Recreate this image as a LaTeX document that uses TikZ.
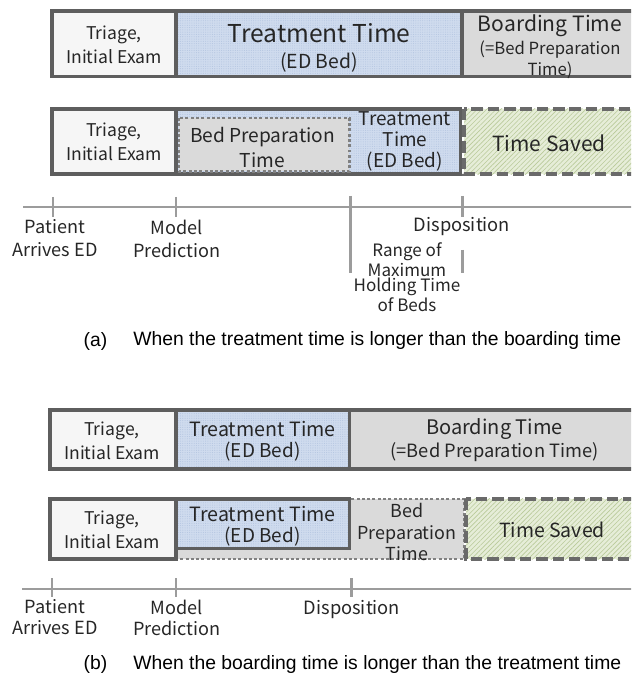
\documentclass[tikz,border=0pt]{standalone}
\usepackage{fontspec}
\newfontfamily\boxfont{Noto Sans CJK KR}
\newfontfamily\capfont{Liberation Sans}
\usetikzlibrary{patterns.meta}
\definecolor{bordergray}{HTML}{5E5E5E}
\definecolor{dotgray}{HTML}{808080}
\definecolor{dashgray}{HTML}{6A6A6A}
\definecolor{axisgray}{HTML}{9C9C9C}
\definecolor{inkgray}{HTML}{262626}
\definecolor{triagefill}{HTML}{F6F6F6}
\definecolor{bluefill}{HTML}{CFDBEE}
\definecolor{bluedot}{HTML}{B4C5E0}
\definecolor{grayfill}{HTML}{DADADA}
\definecolor{greenfill}{HTML}{E6EDD8}
\definecolor{greenline}{HTML}{B9CA9A}

\begin{document}
\begin{tikzpicture}[scale=0.2,
  solidbox/.style={draw=bordergray, line width=2pt},
  dotbox/.style={draw=dotgray, line width=1.7pt, dash pattern=on 1.7pt off 1.3pt},
  dashbox/.style={draw=dashgray, line width=2pt, dash pattern=on 6.5pt off 2.8pt},
  edfill/.style={preaction={fill=bluefill}, pattern={Dots[distance=1.3pt,radius=0.3pt]}, pattern color=bluedot},
  savedfill/.style={preaction={fill=greenfill}, pattern={Lines[angle=45,distance=1.9pt,line width=0.35pt]}, pattern color=greenline},
  axis/.style={draw=axisgray, line width=1.7pt},
  lbl/.style={align=center, text=inkgray}]
\tikzstyle{every node}+=[inner sep=0pt]
\useasboundingbox (0,0) rectangle (63.1,-68.1);
\clip (0,0) rectangle (63.1,-68.1);
% (a) upper bar
\draw [solidbox, fill=triagefill] (5.18,-1.12) rectangle (17.6,-7.67);
\draw [solidbox, edfill] (17.6,-1.12) rectangle (46.2,-7.67);
\draw [solidbox, fill=grayfill] (46.2,-1.12) rectangle (64.5,-7.67);
\node [lbl, font=\boxfont\fontsize{10}{13.7}\selectfont] (triA) at (11.4,-4.5) {Triage,\\Initial Exam};
\node [lbl, font=\boxfont\fontsize{14}{16}\selectfont] (treatA) at (31.9,-3.3) {Treatment Time};
\node [lbl, font=\boxfont\fontsize{11}{13}\selectfont] (edbedA) at (31.9,-6.2) {(ED Bed)};
\node [lbl, font=\boxfont\fontsize{12}{15}\selectfont] (boardA) at (55.0,-2.6) {Boarding Time};
\node [lbl, font=\boxfont\fontsize{9.5}{12}\selectfont] (prepA) at (55.0,-5.95) {(=Bed Preparation\\Time)};
% (a) lower bar
\draw [solidbox, fill=triagefill] (5.18,-10.88) rectangle (17.6,-17.42);
\draw [solidbox, edfill] (17.6,-10.88) rectangle (46.05,-17.42);
\draw [dotbox, fill=grayfill] (17.9,-11.8) rectangle (34.9,-17.15);
\draw [dashbox, savedfill] (46.4,-10.88) rectangle (64.5,-17.42);
\node [lbl, font=\boxfont\fontsize{10}{13.7}\selectfont] (triA2) at (11.4,-14.2) {Triage,\\Initial Exam};
\node [lbl, font=\boxfont\fontsize{10.9}{14.2}\selectfont] (bedA) at (26.25,-14.75) {Bed Preparation\\Time};
\node [lbl, font=\boxfont\fontsize{10.8}{12}\selectfont] (treatA2) at (40.5,-14.1) {Treatment\\Time\\(ED Bed)};
\node [lbl, font=\boxfont\fontsize{11.9}{15}\selectfont] (savedA) at (54.9,-14.3) {Time Saved};
% (a) time line
\coordinate (axA0) at (2.3,-20.7);
\coordinate (axA1) at (64,-20.7);
\draw [axis] (axA0) -- (axA1);
\draw [axis] (5.3,-19.7) -- (5.3,-21.7);
\draw [axis] (17.6,-19.7) -- (17.6,-21.7);
\draw [axis] (35.0,-19.6) -- (35.0,-27.3);
\draw [axis] (46.2,-19.6) -- (46.2,-21.7);
\draw [axis] (46.2,-25.0) -- (46.2,-27.3);
\node [lbl, font=\boxfont\fontsize{10.3}{13.1}\selectfont] (patA) at (5.5,-23.85) {Patient\\Arrives ED};
\node [lbl, font=\boxfont\fontsize{10.3}{13.1}\selectfont] (modA) at (17.7,-23.85) {Model\\Prediction};
\node [lbl, font=\boxfont\fontsize{10.4}{13.1}\selectfont] (dispA) at (46.2,-22.7) {Disposition};
\node [lbl, font=\boxfont\fontsize{9.7}{8.9}\selectfont] (rangeA) at (40.7,-27.75) {Range of\\Maximum\\Holding Time\\of Beds};
\node [font=\capfont\fontsize{11}{13}\selectfont] (capA) at (9.55,-34.1) {(a)};
\node [anchor=west, font=\capfont\fontsize{11}{13}\selectfont] (capAtext) at (13.3,-34.1) {When the treatment time is longer than the boarding time};
% (b) upper bar
\draw [solidbox, fill=triagefill] (4.98,-40.98) rectangle (17.6,-46.92);
\draw [solidbox, edfill] (17.6,-40.98) rectangle (34.93,-46.92);
\draw [solidbox, fill=grayfill] (34.93,-40.98) rectangle (64.5,-46.92);
\node [lbl, font=\boxfont\fontsize{10}{13.7}\selectfont] (triB) at (11.2,-44.05) {Triage,\\Initial Exam};
\node [lbl, font=\boxfont\fontsize{11.2}{14}\selectfont] (treatB) at (26.25,-42.9) {Treatment Time};
\node [lbl, font=\boxfont\fontsize{10.8}{13}\selectfont] (edbedB) at (26.25,-45.2) {(ED Bed)};
\node [lbl, font=\boxfont\fontsize{11.4}{14}\selectfont] (boardB) at (49.45,-42.9) {Boarding Time};
\node [lbl, font=\boxfont\fontsize{10.4}{13}\selectfont] (prepB) at (49.45,-45.2) {(=Bed Preparation Time)};
% (b) lower bar
\draw [dotbox, fill=grayfill] (17.7,-49.9) rectangle (46.4,-55.9);
\draw [solidbox, fill=triagefill] (4.98,-49.88) rectangle (17.6,-55.92);
\draw [solidbox, edfill] (17.6,-49.88) rectangle (34.93,-54.83);
\draw [dashbox, savedfill] (46.6,-49.88) rectangle (64.5,-55.92);
\node [lbl, font=\boxfont\fontsize{10}{13.7}\selectfont] (triB2) at (11.2,-53.0) {Triage,\\Initial Exam};
\node [lbl, font=\boxfont\fontsize{11.2}{14}\selectfont] (treatB2) at (26.25,-51.4) {Treatment Time};
\node [lbl, font=\boxfont\fontsize{10.8}{13}\selectfont] (edbedB2) at (26.25,-53.7) {(ED Bed)};
\node [lbl, font=\boxfont\fontsize{10.2}{12}\selectfont] (bedB) at (40.7,-53.2) {Bed\\Preparation\\Time};
\node [lbl, font=\boxfont\fontsize{11.1}{14}\selectfont] (savedB) at (55.2,-53.0) {Time Saved};
% (b) time line
\coordinate (axB0) at (2.2,-58.9);
\coordinate (axB1) at (64,-58.9);
\draw [axis] (axB0) -- (axB1);
\draw [axis] (5.2,-57.8) -- (5.2,-59.7);
\draw [axis] (17.6,-57.8) -- (17.6,-59.7);
\draw [axis] (35.1,-57.8) -- (35.1,-59.7);
\node [lbl, font=\boxfont\fontsize{10.3}{12}\selectfont] (patB) at (5.5,-61.75) {Patient\\Arrives ED};
\node [lbl, font=\boxfont\fontsize{10.3}{12}\selectfont] (modB) at (17.7,-61.75) {Model\\Prediction};
\node [lbl, font=\boxfont\fontsize{10.4}{13}\selectfont] (dispB) at (35.2,-61.0) {Disposition};
\node [font=\capfont\fontsize{11}{13}\selectfont] (capB) at (9.55,-66.4) {(b)};
\node [anchor=west, font=\capfont\fontsize{11}{13}\selectfont] (capBtext) at (13.3,-66.4) {When the boarding time is longer than the treatment time};
\end{tikzpicture}
\end{document}
